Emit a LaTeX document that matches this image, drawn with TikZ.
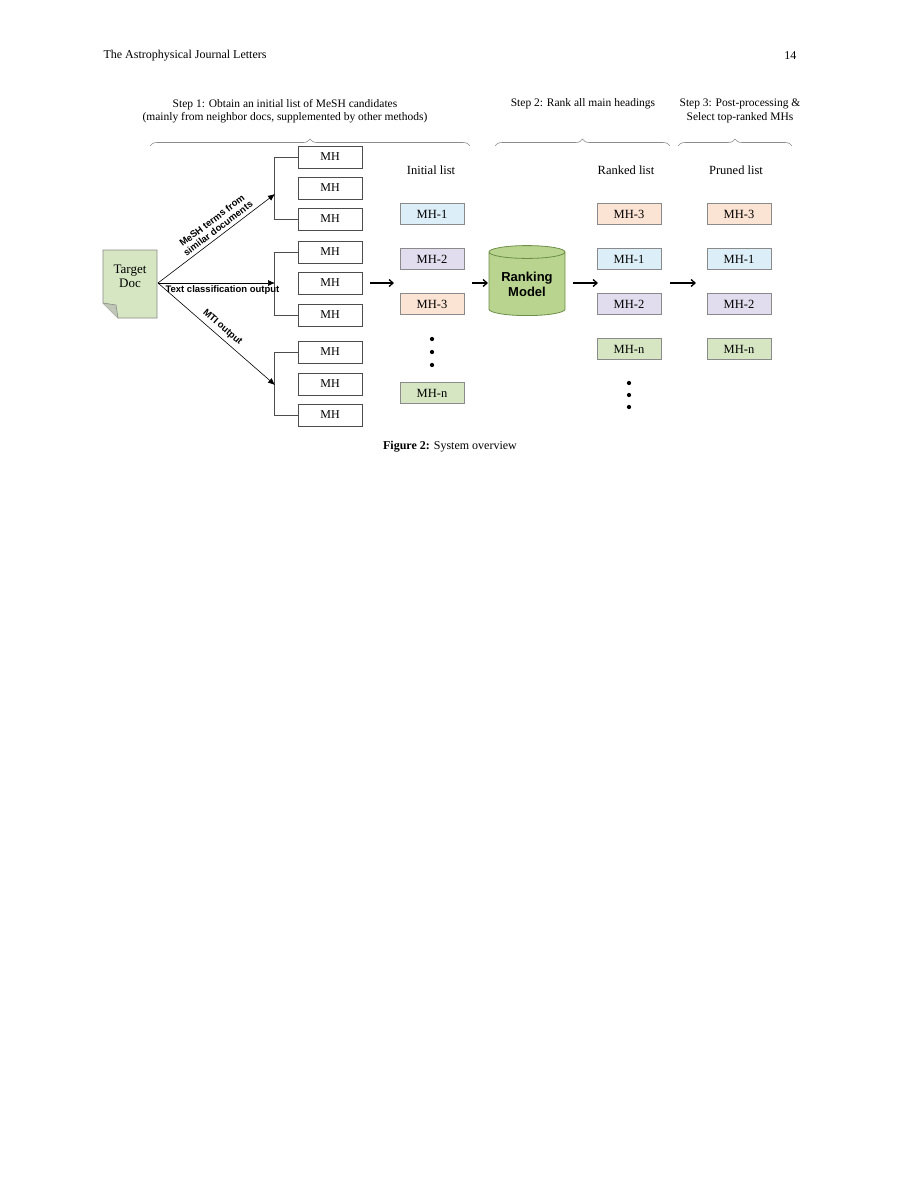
\documentclass[tikz,border=0pt]{standalone}
\usepackage{fontspec}
\setmainfont{Liberation Serif}
\setsansfont{Liberation Sans}
\usetikzlibrary{shapes.geometric,decorations.pathreplacing,arrows.meta}
\definecolor{cblue}{HTML}{DCEEF7}
\definecolor{cpurp}{HTML}{E1DDEE}
\definecolor{corng}{HTML}{FCE4D4}
\definecolor{cgrn}{HTML}{D6E6C2}
\definecolor{cyl}{HTML}{B8D48E}
\definecolor{cylb}{HTML}{6E8E48}
\definecolor{bord}{HTML}{8A8A8A}
\begin{document}
\begin{tikzpicture}[x=1pt,y=-1pt,
  mh/.style={draw=black!70,line width=0.6pt,minimum width=64pt,minimum height=22pt,inner sep=0pt,font=\fontsize{12}{12}\selectfont},
  lst/.style={draw=bord,line width=0.8pt,minimum width=64pt,minimum height=21pt,inner sep=0pt,font=\fontsize{12.5}{12}\selectfont},
  hd/.style={font=\fontsize{12.5}{13}\selectfont},
  st/.style={font=\fontsize{11.5}{13.5}\selectfont,align=center},
  br/.style={draw=black!45,line width=0.6pt,decorate,decoration={brace,amplitude=7pt}},
  lab/.style={font=\sffamily\bfseries\fontsize{9.5}{10}\selectfont,align=center},
  arr/.style={-{Latex[length=7pt,width=6pt]},line width=0.6pt},
  big/.style={-{Straight Barb[length=4pt,width=7pt]},line width=1.3pt},
  dot/.style={fill=black,circle,inner sep=1.5pt}]
\useasboundingbox[fill=white] (0,0) rectangle (900,1200);
\node[anchor=west,font=\fontsize{12}{13}\selectfont] (hl) at (100,56) {The Astrophysical Journal Letters};
\node[anchor=east,font=\fontsize{12}{13}\selectfont] (hr) at (800,56) {14};
% steps
\node[st] (s1) at (285,111) {Step 1: Obtain an initial list of MeSH candidates\\(mainly from neighbor docs, supplemented by other methods)};
\node[st] (s2) at (583,104) {Step 2: Rank all main headings};
\node[st] (s3) at (740,111) {Step 3: Post-processing \&\\Select top-ranked MHs};
\draw[br] (150,146) -- (470,146);
\draw[br] (495,146) -- (670,146);
\draw[br] (678,146) -- (792,146);
% target doc
\path[fill=cgrn,draw=bord,line width=0.8pt] (103,250) -- (157,250) -- (157,318) -- (118,318) -- (103,303) -- cycle;
\path[fill=cgrn!70!black!60,draw=bord,line width=0.6pt] (103,303) -- (116,305) -- (118,318);
\node[font=\fontsize{13}{14}\selectfont,align=center] (doc) at (130,276) {Target\\Doc};
\coordinate (d0) at (158,283);
% MH boxes
\foreach \n/\y in {a1/157,a2/188,a3/219,b1/252,b2/283,b3/315,c1/352,c2/384,c3/415}
  \node[mh] (\n) at (330,\y) {MH};
\foreach \g in {a,b,c}{
  \draw[black!70,line width=0.6pt] (\g1.west) -- ++(-23,0) |- (\g3.west);}
\coordinate (ja) at (275,194);
\coordinate (jb) at (275,283);
\coordinate (jc) at (275,385);
\draw[arr] (d0) -- (ja) node[lab,pos=0.55,sloped,above=0pt] {MeSH terms from\\similar documents};
\draw[arr] (d0) -- (jb);
\node[lab,anchor=west] (tco) at (162,290) {Text classification output};
\draw[arr] (d0) -- (jc) node[lab,pos=0.5,sloped,above=1pt] {MTI output};
% initial list
\node[hd] (il) at (431,170) {Initial list};
\node[lst,fill=cblue] (i1) at (432,214) {MH-1};
\node[lst,fill=cpurp] (i2) at (432,259) {MH-2};
\node[lst,fill=corng] (i3) at (432,304) {MH-3};
\node[lst,fill=cgrn] (in) at (432,393) {MH-n};
\node[dot] (id1) at (432,339) {};
\node[dot] (id2) at (432,352) {};
\node[dot] (id3) at (432,365) {};
\coordinate (a1s) at (370,283); \coordinate (a1e) at (394,283);
\draw[big] (a1s) -- (a1e);
\coordinate (a2s) at (472,283); \coordinate (a2e) at (488,283);
\draw[big] (a2s) -- (a2e);
% cylinder
\node[cylinder,shape border rotate=90,aspect=0.25,draw=cylb,line width=0.8pt,fill=cyl,minimum width=76pt,minimum height=70pt,font=\sffamily\bfseries\fontsize{13}{15}\selectfont,align=center,inner sep=0pt] (rm) at (527,284) {Ranking\\Model};
\coordinate (a3s) at (573,283); \coordinate (a3e) at (598,283);
\draw[big] (a3s) -- (a3e);
% ranked
\node[hd] (rl) at (626,170) {Ranked list};
\node[lst,fill=corng] (r1) at (629,214) {MH-3};
\node[lst,fill=cblue] (r2) at (629,259) {MH-1};
\node[lst,fill=cpurp] (r3) at (629,304) {MH-2};
\node[lst,fill=cgrn] (r4) at (629,349) {MH-n};
\node[dot] (rd1) at (629,383) {};
\node[dot] (rd2) at (629,395) {};
\node[dot] (rd3) at (629,407) {};
\coordinate (a4s) at (670,283); \coordinate (a4e) at (696,283);
\draw[big] (a4s) -- (a4e);
% pruned
\node[hd] (pl) at (736,170) {Pruned list};
\node[lst,fill=corng] (p1) at (739,214) {MH-3};
\node[lst,fill=cblue] (p2) at (739,259) {MH-1};
\node[lst,fill=cpurp] (p3) at (739,304) {MH-2};
\node[lst,fill=cgrn] (p4) at (739,349) {MH-n};
\node[font=\fontsize{12}{13}\selectfont] (cap) at (450,447) {\textbf{Figure 2:} System overview};
\end{tikzpicture}
\end{document}
